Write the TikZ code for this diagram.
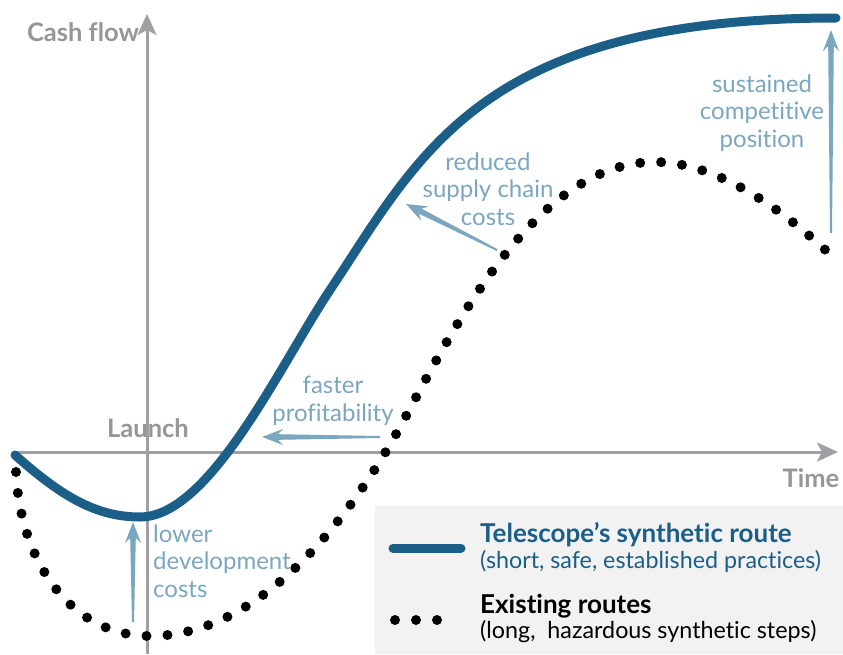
\documentclass[tikz,border=0pt]{standalone}
\usepackage{fontspec}
\setmainfont{Lato}[Ligatures=NoCommon]
\usepackage{tikz}
\usetikzlibrary{arrows.meta,calc}

\definecolor{routeblue}{RGB}{27,94,136}
\definecolor{gainblue}{RGB}{122,166,192}
\definecolor{axisgray}{RGB}{160,160,164}
\definecolor{labelgray}{RGB}{150,150,154}
\definecolor{keygray}{RGB}{242,242,242}

% tapered arrow, tail #1 to tip #2
\newcommand{\gain}[2]{%
	\coordinate (neck) at ($(#2)!16pt!(#1)$);
	\coordinate (barb) at ($(#2)!21pt!(#1)$);
	\fill[gainblue] ($(#1)!1pt!90:(#2)$) -- ($(neck)!2.8pt!-90:(#1)$) -- ($(barb)!8pt!-90:(#1)$) -- (#2)
		-- ($(barb)!8pt!90:(#1)$) -- ($(neck)!2.8pt!90:(#1)$) -- ($(#1)!1pt!-90:(#2)$) -- cycle;}

\begin{document}
\begin{tikzpicture}[x=1pt,y=-1pt,
	axis/.style={draw=axisgray,line width=3pt,-{Stealth[length=21pt,width=19pt,inset=5pt]}},
	axislabel/.style={font=\bfseries\fontsize{25.5}{30}\selectfont,text=labelgray,inner sep=0},
	note/.style={font=\fontsize{24}{27.5}\selectfont,text=gainblue,inner sep=0,align=center},
	keyhead/.style={font=\bfseries\fontsize{26}{30}\selectfont,inner sep=0,anchor=base west},
	keynote/.style={font=\fontsize{23.3}{27}\selectfont,inner sep=0,anchor=base west},
	route/.style={draw=routeblue,line width=9pt,line cap=round},
	existing/.style={draw=black,line width=10pt,line cap=round,dash pattern=on 0pt off 21pt}]
	\useasboundingbox (0,0) rectangle (843,654);

	% axes
	\coordinate (ybot) at (147,654);
	\coordinate (ytop) at (147,14);
	\coordinate (xleft) at (15,452);
	\coordinate (xright) at (838,452);
	\draw[axis] (ybot) -- (ytop);
	\draw[axis] (xleft) -- (xright);
	\node[axislabel,anchor=base] (cashflow) at (83,41) {Cash flow};
	\node[axislabel,anchor=base] (launch) at (148,437) {Launch};
	\node[axislabel,anchor=base] (time) at (811,487) {Time};

	% curves
	\coordinate (rstart) at (15,455);
	\coordinate (rend) at (836,18);
	\draw[route] (rstart) .. controls (60,495) and (95,517) .. (140,517)
		.. controls (210,517) and (280,365) .. (330,290)
		.. controls (420,155) and (480,18) .. (rend);
	\coordinate (estart) at (16,472);
	\coordinate (eend) at (838,262);
	\draw[existing] (estart) .. controls (20,560) and (70,636) .. (150,636)
		.. controls (260,636) and (350,520) .. (405,418)
		.. controls (460,315) and (540,162) .. (655,162)
		.. controls (720,162) and (790,215) .. (eend);

	% gains
	\coordinate (lowtail) at (133,622);
	\coordinate (lowtip) at (133,522);
	\coordinate (fasttail) at (380,437);
	\coordinate (fasttip) at (262,437);
	\coordinate (supptail) at (497,250);
	\coordinate (supptip) at (406,204);
	\coordinate (sustail) at (831,233);
	\coordinate (sustip) at (831,30);
	\gain{lowtail}{lowtip}
	\gain{fasttail}{fasttip}
	\gain{supptail}{supptip}
	\gain{sustail}{sustip}
	\node[note,align=left,anchor=base west] (lowerdev) at (153,597) {lower\\development\\costs};
	\node[note,anchor=base] (faster) at (333,421) {faster\\profitability};
	\node[note,anchor=base] (supply) at (488,225) {reduced\\supply chain\\costs};
	\node[note,anchor=base] (sustained) at (762,147) {sustained\\competitive\\position};

	% key
	\fill[keygray] (375,506) rectangle (843,654);
	\draw[route] (393,548) -- (461,548);
	\draw[existing] (395,620) -- (438,620);
	\node[keyhead,text=routeblue] (keyroute) at (480,542) {Telescope’s synthetic route};
	\node[keynote,text=routeblue] (keyroutenote) at (480,568) {(short, safe, established practices)};
	\node[keyhead] (keyexist) at (480,613) {Existing routes};
	\node[keynote] (keyexistnote) at (480,638) {(long,~ hazardous synthetic steps)};
\end{tikzpicture}
\end{document}
